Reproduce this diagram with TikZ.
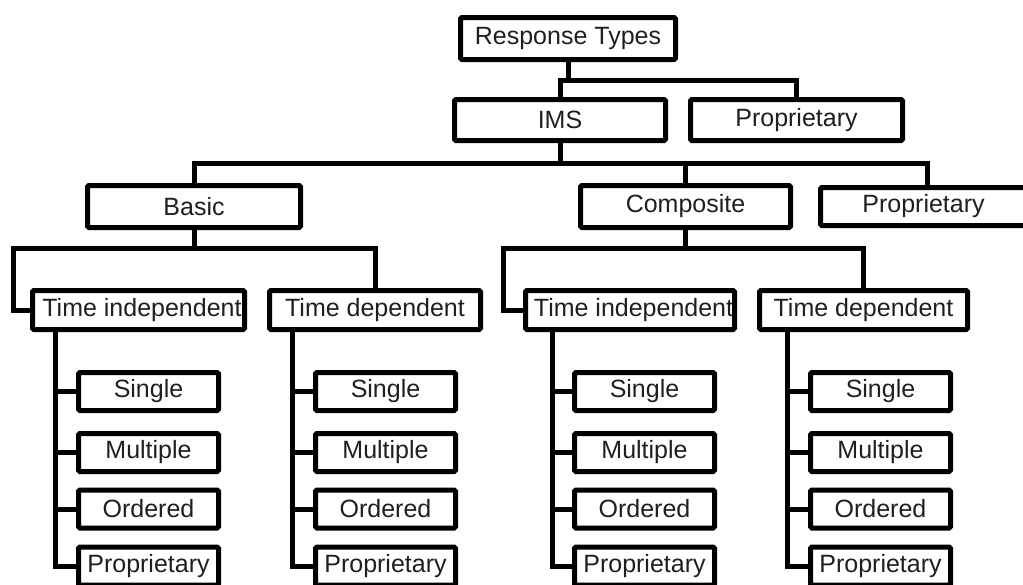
\documentclass[tikz,border=0pt]{standalone}
\usepackage{fontspec}
\setmainfont{Liberation Sans}
\begin{document}
\begin{tikzpicture}[x=1pt,y=-1pt,
  box/.style={draw, line width=5pt, rounded corners=1.5pt, inner sep=0pt,
    minimum height=41pt, font=\fontsize{25}{30}\selectfont, text=black!88},
  leaf/.style={box, minimum width=140pt, minimum height=38pt},
  wire/.style={line width=5pt}]
\clip (0,0) rectangle (1023,584);
\fill[white] (0,0) rectangle (1023,584);

% top levels
\node[box, minimum width=215pt, minimum height=42pt] (rt) at (568,38.5) {Response Types};
\node[box, minimum width=211pt] (ims) at (560,120) {IMS};
\node[box, minimum width=212pt] (p1) at (796.5,120) {Proprietary};
\node[box, minimum width=213pt, minimum height=42pt] (basic) at (194,206.5) {Basic};
\node[box, minimum width=210pt, minimum height=42pt] (comp) at (685.5,206.5) {Composite};
\node[box, minimum width=206pt, minimum height=38pt] (p2) at (923.5,206.5) {Proprietary};

% time classes
\node[box, minimum width=212pt, minimum height=39pt] (ti1) at (138.5,310) {\hspace*{7pt}Time independent};
\node[box, minimum width=211pt, minimum height=39pt] (td1) at (375,310) {Time dependent};
\node[box, minimum width=209pt, minimum height=39pt] (ti2) at (630,310) {\hspace*{7pt}Time independent};
\node[box, minimum width=208pt, minimum height=39pt] (td2) at (863.5,310) {Time dependent};

% connectors between levels
\coordinate (bus1) at (0,80);
\draw[wire] (rt.south) -- (rt.south |- bus1);
\draw[wire] (ims.north) |- (p1.north |- bus1) -- (p1.north);

\coordinate (bus2) at (0,163);
\draw[wire] (ims.south) -- (ims.south |- bus2);
\draw[wire] (basic.north) |- ([xshift=3.5pt]p2.north |- bus2) -- ([xshift=3.5pt]p2.north);
\draw[wire] (comp.north) -- (comp.north |- bus2);

\coordinate (bus3) at (13,248);
\draw[wire] (basic.south) -- (basic.south |- bus3);
\draw[wire] (ti1.west) -| (bus3) -| (td1.north);

\coordinate (bus4) at (503,248);
\draw[wire] (comp.south) -- (comp.south |- bus4);
\draw[wire] (ti2.west) -| (bus4) -| (td2.north);

% leaf lists
\foreach \g/\cx/\up/\off in {1/148.5/ti1/25pt, 2/385.5/td1/25pt, 3/644.5/ti2/29pt, 4/880.5/td2/30pt} {
  \node[leaf] (single\g)   at (\cx,391.5) {Single};
  \node[leaf] (multiple\g) at (\cx,452.5) {Multiple};
  \node[leaf] (ordered\g)  at (\cx,509)   {Ordered};
  \node[leaf] (propr\g)    at (\cx,566)   {Proprietary};
  \coordinate (v\g) at ([xshift=\off]\up.south west);
  \draw[wire] (v\g) |- (propr\g.west);
  \foreach \l in {single,multiple,ordered}
    \draw[wire] (\l\g.west) -- (v\g |- \l\g.west);
}
\end{tikzpicture}
\end{document}
